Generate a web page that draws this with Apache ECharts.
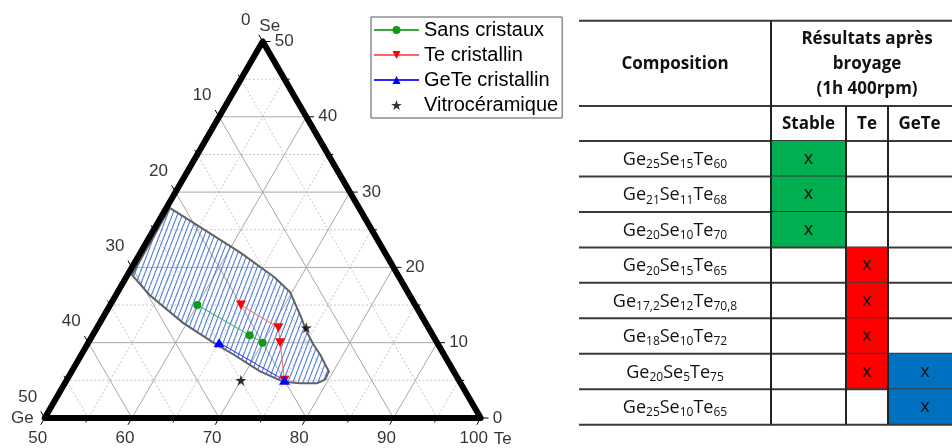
<!DOCTYPE html>
<html lang="fr">
<head>
<meta charset="UTF-8">
<title>Ge-Se-Te</title>
<style>
	html, body { margin: 0; padding: 0; background: #fff; }
	#box { width: 952px; height: 448px; }
</style>
</head>
<body>
<div id="box"></div>
<script src="https://cdn.jsdelivr.net/npm/echarts@6/dist/echarts.min.js"></script>
<script>
	// compositions [Ge, Se, Te] (%)
	var sansCristaux = [[25, 15, 60], [21, 11, 68], [20, 10, 70]];
	var teCristallin = [[20, 15, 65], [17.2, 12, 70.8], [18, 10, 72], [20, 5, 75]];
	var geteCristallin = [[25, 10, 65], [20, 5, 75]];
	var vitroceramique = [[14, 12, 74], [25, 5, 70]];

	// domaine vitreux (hachuré), Te et Se
	var domaineTe = [50.4, 61.4, 67.0, 69.8, 71.3, 72.7, 74.1, 75.9, 77.4, 78.8, 79.5, 79.6, 78.9, 77.0, 75.0, 71.6, 67.5, 64.9, 59.6, 53.9, 50.5];
	var domaineSe = [27.9, 22.0, 18.7, 16.7, 15.0, 13.4, 11.7, 9.8, 8.4, 6.9, 6.2, 5.1, 4.6, 4.6, 4.8, 6.2, 8.4, 9.7, 12.6, 16.3, 19.0];

	var majorGrid = [10, 20, 30, 40];
	var minorGrid = [5, 15, 25, 35, 45];
	var tickSteps = [0, 5, 10, 15, 20, 25, 30, 35, 40, 45, 50];
	var teLabels = [50, 60, 70, 80, 90, 100];
	var geLabels = [50, 40, 30, 20, 10, 0];
	var seLabels = [0, 10, 20, 30, 40, 50];

	// tableau
	var tableRows = ['Ge25Se15Te60', 'Ge21Se11Te68', 'Ge20Se10Te70', 'Ge20Se15Te65',
		'Ge17,2Se12Te70,8', 'Ge18Se10Te72', 'Ge20Se5Te75', 'Ge25Se10Te65'];
	var stable = [1, 1, 1, 0, 0, 0, 0, 0];
	var teRes = [0, 0, 0, 1, 1, 1, 1, 0];
	var geteRes = [0, 0, 0, 0, 0, 0, 1, 1];

	var H = Math.sqrt(3) / 2;

	// [Ge, Se, Te] -> coordonnées cartésiennes
	function xy(c) {
		return [c[2] + c[1] / 2, c[1] * H];
	}

	function seg(a, b) {
		var p = xy(a), q = xy(b);
		return [p[0], p[1], q[0], q[1]];
	}

	function gridLines(vals) {
		var out = [];
		vals.forEach(function (v) {
			out.push(seg([50 - v, v, 50], [0, v, 100 - v]));
			out.push(seg([50 - v, 0, 50 + v], [0, 50 - v, 50 + v]));
			out.push(seg([v, 0, 100 - v], [v, 50 - v, 50]));
		});
		return out;
	}

	function ticks() {
		var out = [];
		tickSteps.forEach(function (v) {
			var L = v % 10 === 0 ? 0.9 : 0.6;
			var b = xy([50 - v, 0, 50 + v]);
			out.push([b[0], b[1], b[0] - 0.5 * L, b[1] - H * L]);
			var l = xy([v, 50 - v, 50]);
			out.push([l[0], l[1], l[0] - 0.5 * L, l[1] + H * L]);
			var r = xy([0, v, 100 - v]);
			out.push([r[0], r[1], r[0] + L, r[1]]);
		});
		return out;
	}

	function segSeries(data, style, z) {
		return {
			type: 'custom',
			silent: true,
			z: z,
			data: data,
			encode: { x: [0, 2], y: [1, 3] },
			renderItem: function (params, api) {
				var p = api.coord([api.value(0), api.value(1)]);
				var q = api.coord([api.value(2), api.value(3)]);
				return {
					type: 'line',
					shape: { x1: p[0], y1: p[1], x2: q[0], y2: q[1] },
					style: Object.assign({}, style)
				};
			}
		};
	}

	function polySeries(points, style, z) {
		return {
			type: 'custom',
			silent: true,
			z: z,
			data: points,
			renderItem: function (params, api) {
				if (params.dataIndex !== 0) return null;
				var pts = points.map(function (p) { return api.coord(p); });
				return { type: 'polygon', shape: { points: pts }, style: Object.assign({}, style) };
			}
		};
	}

	function labelSeries(data, label) {
		return {
			type: 'scatter',
			silent: true,
			symbolSize: 0.1,
			itemStyle: { color: 'transparent' },
			z: 6,
			data: data,
			label: Object.assign({
				show: true,
				formatter: '{b}',
				fontSize: 17,
				fontFamily: 'Liberation Sans',
				color: '#000'
			}, label)
		};
	}

	// motif de hachures
	var hatch = document.createElement('canvas');
	hatch.width = 5;
	hatch.height = 13;
	var hc = hatch.getContext('2d');
	hc.strokeStyle = '#4e7ed6';
	hc.lineWidth = 1.1;
	[-5, 0, 5].forEach(function (dx) {
		hc.beginPath();
		hc.moveTo(dx, 13);
		hc.lineTo(dx + 5, 0);
		hc.stroke();
	});

	var domaine = domaineTe.map(function (t, i) {
		return xy([100 - t - domaineSe[i], domaineSe[i], t]);
	});
	var triangle = [xy([50, 0, 50]), xy([0, 0, 100]), xy([0, 50, 50])];

	var star = 'path://M50,0 L61.8,35.1 L98.1,35.1 L68.8,56.7 L79.4,90.5 L50,69.6 L20.6,90.5 L31.2,56.7 L1.9,35.1 L38.2,35.1 Z';

	// colonnes du tableau (px depuis le bord gauche)
	var colEdges = [0, 192, 267, 309, 383];
	var lineCol = '#3a3a3a';
	var fillCol = ['#00b050', '#ff0000', '#0070c0'];

	var oBox = document.getElementById('box');
	var myChart = echarts.init(oBox);

	var font = 'Open Sans';

	var option = {
		animation: false,
		backgroundColor: '#fff',
		textStyle: { fontFamily: 'Liberation Sans' },
		grid: [
			{ left: 44.7, top: 41.5, width: 436, height: 376.5 },
			{ left: 579, top: 141, right: 0, bottom: 23.3 }
		],
		xAxis: [
			{ type: 'value', min: 50, max: 100, show: false },
			{ type: 'value', gridIndex: 1, min: 0, max: 373, show: false }
		],
		yAxis: [
			{ type: 'value', min: 0, max: 50 * H, show: false },
			{ type: 'category', gridIndex: 1, data: tableRows, inverse: true, show: false }
		],
		legend: {
			orient: 'vertical',
			left: 371,
			top: 17,
			padding: [3, 4, 3, 2],
			itemGap: 5,
			itemWidth: 45,
			itemHeight: 10,
			borderColor: '#555',
			borderWidth: 1,
			borderRadius: 0,
			textStyle: { fontSize: 20, lineHeight: 20, fontFamily: 'Liberation Sans', color: '#000' },
			data: ['Sans cristaux', 'Te cristallin', 'GeTe cristallin', 'Vitrocéramique']
		},
		graphic: [
			{ type: 'line', shape: { x1: 579, y1: 20.7, x2: 952, y2: 20.7 }, style: { stroke: lineCol, lineWidth: 2 } },
			{ type: 'line', shape: { x1: 579, y1: 106, x2: 952, y2: 106 }, style: { stroke: lineCol, lineWidth: 2 } },
			{ type: 'line', shape: { x1: 579, y1: 141, x2: 952, y2: 141 }, style: { stroke: lineCol, lineWidth: 2 } },
			{ type: 'line', shape: { x1: 771, y1: 20.7, x2: 771, y2: 141 }, style: { stroke: '#222', lineWidth: 2 } },
			{ type: 'line', shape: { x1: 846, y1: 106, x2: 846, y2: 141 }, style: { stroke: '#222', lineWidth: 2 } },
			{ type: 'line', shape: { x1: 888, y1: 106, x2: 888, y2: 141 }, style: { stroke: '#222', lineWidth: 2 } },
			{ type: 'text', x: 675, y: 64, style: { text: 'Composition', font: 'bold 17px "Open Sans"', fill: '#111', align: 'center', verticalAlign: 'middle' } },
			{ type: 'text', x: 867, y: 39.5, style: { text: 'Résultats après', font: 'bold 17px "Open Sans"', fill: '#111', align: 'center', verticalAlign: 'middle' } },
			{ type: 'text', x: 867, y: 64.5, style: { text: 'broyage', font: 'bold 17px "Open Sans"', fill: '#111', align: 'center', verticalAlign: 'middle' } },
			{ type: 'text', x: 867, y: 89.5, style: { text: '(1h 400rpm)', font: 'bold 17px "Open Sans"', fill: '#111', align: 'center', verticalAlign: 'middle' } },
			{ type: 'text', x: 808.5, y: 124, style: { text: 'Stable', font: 'bold 17px "Open Sans"', fill: '#111', align: 'center', verticalAlign: 'middle' } },
			{ type: 'text', x: 867, y: 124, style: { text: 'Te', font: 'bold 17px "Open Sans"', fill: '#111', align: 'center', verticalAlign: 'middle' } },
			{ type: 'text', x: 919.5, y: 124, style: { text: 'GeTe', font: 'bold 17px "Open Sans"', fill: '#111', align: 'center', verticalAlign: 'middle' } }
		],
		series: [
			segSeries(gridLines(minorGrid), { stroke: '#c4c4c4', lineWidth: 1, lineDash: [2, 2] }, 1),
			segSeries(gridLines(majorGrid), { stroke: '#a8a8a8', lineWidth: 1 }, 1),
			polySeries(domaine, { fill: { image: hatch, repeat: 'repeat' }, stroke: '#626262', lineWidth: 2, lineJoin: 'round' }, 2),
			polySeries(triangle, { fill: null, stroke: '#000', lineWidth: 6, lineJoin: 'round' }, 3),
			segSeries(ticks(), { stroke: '#000', lineWidth: 1 }, 3),
			{
				name: 'Sans cristaux',
				type: 'line',
				z: 5,
				data: sansCristaux.map(xy),
				symbol: 'circle',
				symbolSize: 8,
				itemStyle: { color: '#139a13' },
				lineStyle: { color: '#3aaa3a', width: 1 }
			},
			{
				name: 'Te cristallin',
				type: 'line',
				z: 5,
				data: teCristallin.map(xy),
				symbol: 'triangle',
				symbolRotate: 180,
				symbolSize: [10, 9],
				itemStyle: { color: '#ff0000' },
				lineStyle: { color: '#ff6464', width: 1 }
			},
			{
				name: 'GeTe cristallin',
				type: 'line',
				z: 6,
				data: geteCristallin.map(xy),
				symbol: 'triangle',
				symbolSize: [11, 9],
				itemStyle: { color: '#0000ff' },
				lineStyle: { color: '#2a2aff', width: 1 }
			},
			{
				name: 'Vitrocéramique',
				type: 'scatter',
				z: 6,
				data: vitroceramique.map(xy),
				symbol: star,
				symbolSize: 11,
				itemStyle: { color: '#000' }
			},
			labelSeries(teLabels.map(function (t) {
				return { name: String(t), value: xy([100 - t, 0, t]) };
			}), { position: 'inside', offset: [-7, 20] }),
			labelSeries(geLabels.map(function (g) {
				return { name: String(g), value: xy([g, 50 - g, 50]) };
			}), { position: 'inside', offset: [-17, -21] }),
			labelSeries(seLabels.map(function (s) {
				return { name: String(s), value: xy([0, s, 100 - s]) };
			}), { position: 'right', distance: 12 }),
			labelSeries([
				{ name: 'Ge', value: xy([50, 0, 50]), label: { position: 'left', distance: 11 } },
				{ name: 'Se', value: xy([0, 50, 50]), label: { position: 'inside', offset: [7, -15] } },
				{ name: 'Te', value: xy([0, 0, 100]), label: { position: 'inside', offset: [22, 21] } }
			], {}),
			{
				type: 'custom',
				xAxisIndex: 1,
				yAxisIndex: 1,
				silent: true,
				data: tableRows.map(function (r, i) { return [0, i]; }),
				renderItem: function (params, api) {
					var i = params.dataIndex;
					var c = api.coord([0, i]);
					var h = api.size([0, 1])[1];
					var top = c[1] - h / 2;
					var xs = colEdges.map(function (e) { return api.coord([e, i])[0]; });
					var kids = [];
					[stable, teRes, geteRes].forEach(function (arr, k) {
						if (!arr[i]) return;
						kids.push({ type: 'rect', shape: { x: xs[k + 1], y: top, width: xs[k + 2] - xs[k + 1], height: h }, style: { fill: fillCol[k] } });
						kids.push({ type: 'text', x: (xs[k + 1] + xs[k + 2]) / 2, y: c[1], style: { text: 'x', font: '18px "Open Sans"', fill: '#111', align: 'center', verticalAlign: 'middle' } });
					});
					var rich = tableRows[i].replace(/([A-Z][a-z]?)([\d,]+)/g, '{n|$1}{s|$2}');
					kids.push({
						type: 'text', x: (xs[0] + xs[1]) / 2, y: c[1] + 1,
						style: {
							text: rich, align: 'center', verticalAlign: 'middle', fill: '#111',
							rich: {
								n: { fontSize: 18, fontFamily: font, lineHeight: 22, fill: '#111' },
								s: { fontSize: 12, fontFamily: font, lineHeight: 9, verticalAlign: 'bottom', fill: '#111' }
							}
						}
					});
					kids.push({ type: 'line', shape: { x1: xs[0], y1: top + h, x2: 952, y2: top + h }, style: { stroke: lineCol, lineWidth: 2 } });
					[1, 2, 3].forEach(function (k) {
						kids.push({ type: 'line', shape: { x1: xs[k], y1: top, x2: xs[k], y2: top + h }, style: { stroke: '#222', lineWidth: 2 } });
					});
					return { type: 'group', children: kids };
				}
			}
		]
	};

	myChart.setOption(option);
</script>
</body>
</html>
